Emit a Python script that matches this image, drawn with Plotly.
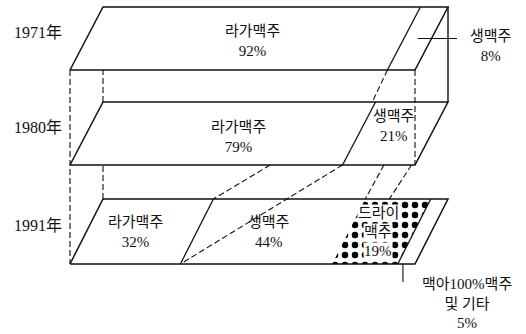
import plotly.graph_objects as go

# Market share (%) of beer types by year
years = ["1971年", "1980年", "1991年"]
lager_share = [92, 79, 32]
draft_share = [8, 21, 44]
dry_share = [0, 0, 19]
malt_other_share = [0, 0, 5]
segment_names = ["라가맥주", "생맥주", "드라이<br>맥주", "맥아100%맥주<br>및 기타"]

# Flow lines between consecutive slabs: (level, share, depth) -> (level, share, depth), visible span
flow_links = [
    ((0, 92, 0), (1, 79, 0), "gap"),
    ((1, 79, 0), (2, 32, 0), "all"),
    ((1, 79, 1), (2, 32, 1), "below"),
    ((1, 91, 0), (2, 76, 1), "all"),
    ((1, 99, 0), (2, 83, 1), "all"),
]

# Oblique projection of each slab (pixel space of the page)
X0, W, DX = 70, 345, 33
Y_FRONT = [70, 165, 264]
DEPTH_Y = [63, 63, 65]
SERIF = "Liberation Serif, Noto Sans CJK KR, serif"
INK = "#111"


def pt(level, share, depth):
    return (X0 + share / 100 * W + depth * DX, Y_FRONT[level] - depth * DEPTH_Y[level])


def clip_y(p, q, ylo, yhi):
    (x1, y1), (x2, y2) = p, q
    ts = []
    for yy in (ylo, yhi):
        if y2 != y1:
            ts.append((yy - y1) / (y2 - y1))
    t0, t1 = max(0, min(ts)), min(1, max(ts))
    f = lambda t: (x1 + (x2 - x1) * t, y1 + (y2 - y1) * t)
    return f(t0), f(t1)


fig = go.Figure()


def seg(p, q, dash="solid", width=1.4):
    fig.add_trace(go.Scatter(x=[p[0], q[0]], y=[p[1], q[1]], mode="lines",
                             line=dict(color=INK, width=width, dash=dash),
                             hoverinfo="skip", showlegend=False))


DASH = "6px,3px"
shares = [[v for v in (lager_share[i], draft_share[i], dry_share[i], malt_other_share[i])]
          for i in range(len(years))]

# dotted fill for dry beer (1991)
lvl = 2
a = lager_share[lvl] + draft_share[lvl]
b = a + dry_share[lvl]
poly = [pt(lvl, a, 0), pt(lvl, b, 0), pt(lvl, b, 1), pt(lvl, a, 1), pt(lvl, a, 0)]
fig.add_trace(go.Scatter(x=[p[0] for p in poly], y=[p[1] for p in poly], mode="none",
                         fill="toself", fillcolor="white",
                         fillpattern=dict(shape=".", size=10, solidity=0.33,
                                          fgcolor="black", fgopacity=1, bgcolor="white"),
                         hoverinfo="skip", showlegend=False))

# slab outlines and dividers
for lvl in range(len(years)):
    c = [pt(lvl, 0, 0), pt(lvl, 100, 0), pt(lvl, 100, 1), pt(lvl, 0, 1), pt(lvl, 0, 0)]
    fig.add_trace(go.Scatter(x=[p[0] for p in c], y=[p[1] for p in c], mode="lines",
                             line=dict(color=INK, width=1.5), hoverinfo="skip",
                             showlegend=False))
    cum = 0
    vals = [v for v in shares[lvl] if v > 0]
    for k, v in enumerate(vals[:-1]):
        cum += v
        if lvl == 2 and k == 1:
            continue  # dotted area edge carries no line
        seg(pt(lvl, cum, 0), pt(lvl, cum, 1), width=1.3)

# vertical box edges between slabs
seg(pt(0, 0, 0), pt(2, 0, 0), DASH, 1.1)
for lvl in (1, 2):
    p = pt(lvl, 0, 1)
    seg(p, (p[0], Y_FRONT[lvl - 1]), DASH, 1.1)
seg(pt(0, 100, 0), pt(1, 100, 0), DASH, 1.1)
p = pt(1, 100, 1)
seg((p[0], pt(0, 100, 1)[1]), p, "solid", 1.4)

# flow lines
for src, dst, span in flow_links:
    p, q = pt(*src), pt(*dst)
    if span in ("gap", "below"):
        p, q = clip_y(p, q, Y_FRONT[src[0]], Y_FRONT[dst[0]] - DEPTH_Y[dst[0]])
    seg(p, q, DASH, 1.1)

# year labels
for lvl, yr in enumerate(years):
    fig.add_annotation(x=64, y=Y_FRONT[lvl] - DEPTH_Y[lvl] / 2 - 6, text=yr,
                       xanchor="right", showarrow=False,
                       font=dict(family="Liberation Serif, Noto Sans CJK JP, serif",
                                 size=16, color=INK))

# in-slab labels
label_shift = {(0, 0): (7, 2), (1, 0): (16, 3), (1, 1): (-2, -8),
               (2, 0): (-6, 0), (2, 1): (-4, 0), (2, 2): (-3, 0)}
for lvl in range(len(years)):
    cum = 0
    for k, v in enumerate(shares[lvl]):
        if v <= 0:
            continue
        mid = cum + v / 2
        cum += v
        if (lvl == 0 and k == 1) or (lvl == 2 and k == 3):
            continue
        x, y = pt(lvl, mid, 0.5)
        sx, sy = label_shift.get((lvl, k), (0, 0))
        font = dict(family=SERIF, size=15, color=INK)
        if k == 2:
            # each line gets its own small white backing over the dots
            lines = segment_names[k].split("<br>") + [f"{v}%"]
            for i, ln in enumerate(lines):
                fig.add_annotation(x=x + sx, y=y + sy + (i - (len(lines) - 1) / 2) * 19,
                                   text=ln, showarrow=False, bgcolor="white",
                                   borderpad=0, font=font)
        else:
            fig.add_annotation(x=x + sx, y=y + sy, text=f"{segment_names[k]}<br>{v}%",
                               showarrow=False, align="center", font=font)

# callout: 1971 draft beer
x, y = pt(0, lager_share[0] + draft_share[0] / 2, 0.5)
seg((x, y), (457, y), "solid", 1.1)
fig.add_annotation(x=490, y=46, text=f"{segment_names[1]}<br>{draft_share[0]}%",
                   showarrow=False, font=dict(family=SERIF, size=15, color=INK))

# callout: 1991 malt 100% and others
start = lager_share[2] + draft_share[2] + dry_share[2]
x, y = pt(2, start + malt_other_share[2] * 0.3, 0)
seg((x, y), (x, y + 18), "solid", 1.1)
fig.add_annotation(x=467, y=303, text=f"{segment_names[3]}<br>{malt_other_share[2]}%",
                   showarrow=False, align="center",
                   font=dict(family=SERIF, size=15, color=INK))

fig.update_layout(
    width=526, height=334, margin=dict(l=0, r=0, t=0, b=0),
    paper_bgcolor="white", plot_bgcolor="white",
    xaxis=dict(range=[0, 526], visible=False, fixedrange=True),
    yaxis=dict(range=[334, 0], visible=False, fixedrange=True),
    showlegend=False,
)
fig.write_html("out.html")
